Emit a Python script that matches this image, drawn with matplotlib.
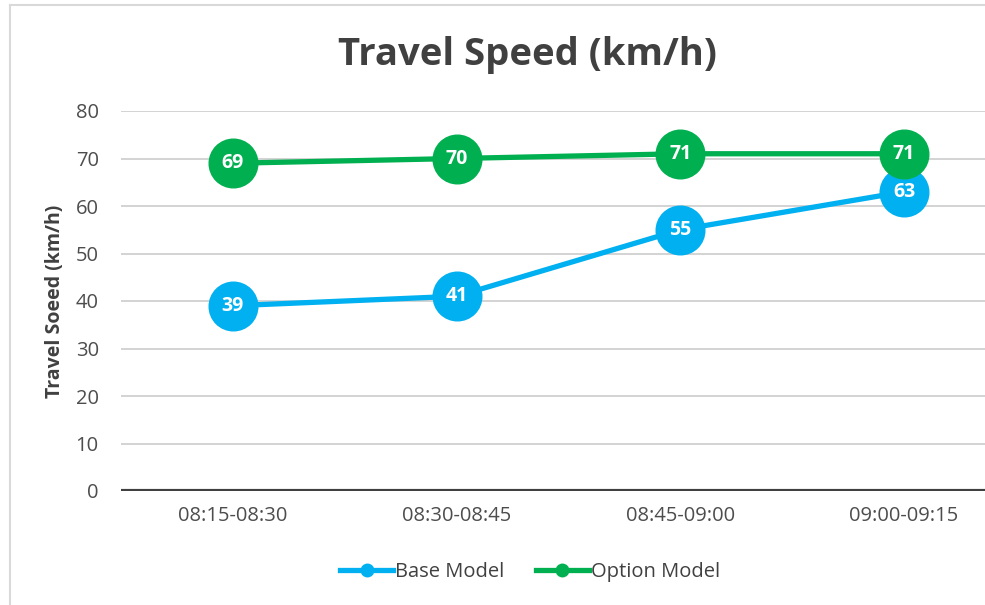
import matplotlib.pyplot as plt
from matplotlib.lines import Line2D

periods = ["08:15-08:30", "08:30-08:45", "08:45-09:00", "09:00-09:15"]
base_model = [39, 41, 55, 63]
option_model = [69, 70, 71, 71]
y_ticks = [0, 10, 20, 30, 40, 50, 60, 70, 80]

BLUE = "#00B0F0"
GREEN = "#00B050"
plt.rcParams["font.family"] = ["Open Sans", "DejaVu Sans"]

fig = plt.figure(figsize=(9.85, 6.05), dpi=100)
# plot area runs past the right edge, like the cropped original
ax = fig.add_axes([121 / 985, 114 / 605, 895 / 985, 380 / 605])

x = list(range(len(periods)))
for vals, col, lab in [(base_model, BLUE, "Base Model"), (option_model, GREEN, "Option Model")]:
    ax.plot(x, vals, color=col, lw=3.8, marker="o", ms=35, zorder=3, label=lab)
    for xi, v in zip(x, vals):
        ax.text(xi, v, f"{v}", color="white", fontsize=14, fontweight="bold",
                ha="center", va="center", zorder=4)

ax.set_xlim(-0.5, len(periods) - 0.5)
ax.set_ylim(0, 80)
ax.set_yticks(y_ticks)
ax.set_xticks(x)
ax.set_xticklabels(periods)
ax.tick_params(axis="both", length=0, labelcolor="#4D4D4D", labelsize=14.5)
ax.tick_params(axis="y", pad=16)
ax.tick_params(axis="x", pad=11)
ax.grid(axis="y", color="#D0D0D0", lw=1.3)
ax.set_axisbelow(True)
for s in ax.spines.values():
    s.set_visible(False)
ax.axhline(0, color="#404040", lw=3, zorder=2)
ax.set_ylabel("Travel Soeed (km/h)", fontsize=14, fontweight="bold", color="#404040", labelpad=8)

fig.text(527 / 985, 1 - 55 / 605, "Travel Speed (km/h)", fontsize=27.5, fontweight="bold",
         color="#404040", ha="center", va="center")

handles = [Line2D([0], [0], color=BLUE, lw=3.8, marker="o", ms=9),
           Line2D([0], [0], color=GREEN, lw=3.8, marker="o", ms=9)]
fig.legend(handles, ["Base Model", "Option Model"], loc="center", bbox_to_anchor=(530 / 985, 1 - 572 / 605),
           ncol=2, frameon=False, fontsize=14.5, handlelength=2.6, handletextpad=0.1, columnspacing=1.6,
           labelcolor="#404040")

# outer chart border (left and top)
fig.add_artist(Line2D([10 / 985, 10 / 985], [0, 1 - 5 / 605], color="#D9D9D9", lw=1.5))
fig.add_artist(Line2D([10 / 985, 1], [1 - 5 / 605, 1 - 5 / 605], color="#D9D9D9", lw=1.5))

fig.savefig("out.png", dpi=100)
